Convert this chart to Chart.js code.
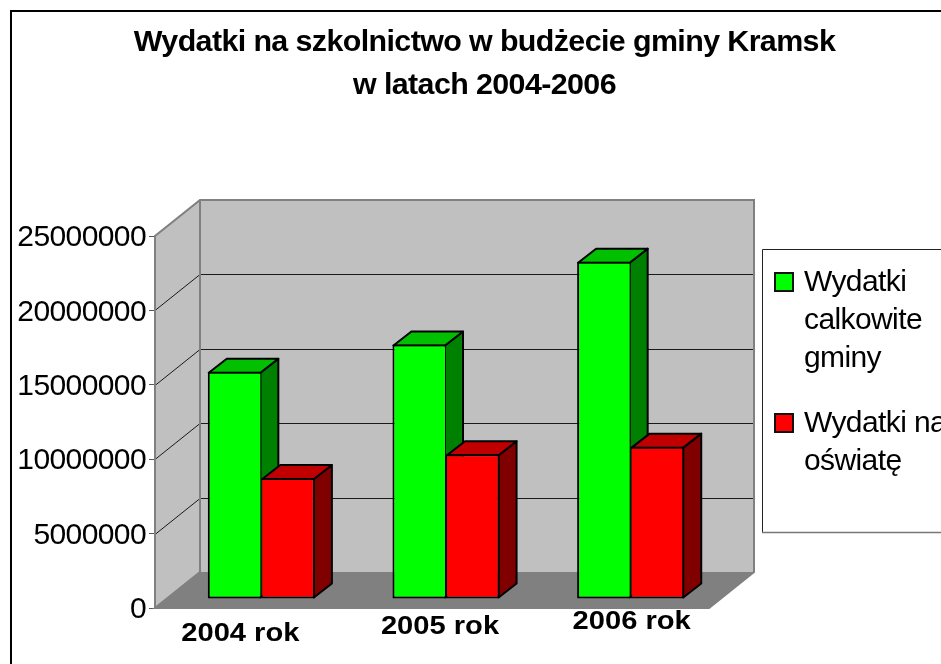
<!DOCTYPE html>
<html><head><meta charset="utf-8">
<style>html,body{margin:0;padding:0;background:#fff;overflow:hidden}canvas{display:block}</style>
<script src="https://cdn.jsdelivr.net/npm/chart.js@4/dist/chart.umd.min.js"></script>
</head><body><canvas id="c" width="941" height="664"></canvas>
<script>
const titleLines = ['Wydatki na szkolnictwo w budżecie gminy Kramsk', 'w latach 2004-2006'];
const categories = ['2004 rok', '2005 rok', '2006 rok'];
const totalName = 'Wydatki calkowite gminy';
const educationName = 'Wydatki na oświatę';
const totalValues = [15270000, 17100000, 22670000];
const educationValues = [8130000, 9730000, 10240000];
const totalLegendLines = ['Wydatki', 'calkowite', 'gminy'];
const educationLegendLines = ['Wydatki na', 'oświatę'];
const yTicks = [0, 5000000, 10000000, 15000000, 20000000, 25000000];

const WALL = {dx: 45, dy: -36};
const BAR_OFF = {dx: 14, dy: -9};
const BAR_DEPTH = {dx: 18, dy: -14};
const FONT = '"Liberation Sans", Arial, sans-serif';

function poly(ctx, pts, fill, stroke, lw) {
  ctx.beginPath();
  pts.forEach((p, i) => i ? ctx.lineTo(p[0], p[1]) : ctx.moveTo(p[0], p[1]));
  ctx.closePath();
  if (fill) { ctx.fillStyle = fill; ctx.fill(); }
  if (stroke) { ctx.strokeStyle = stroke; ctx.lineWidth = lw; ctx.lineJoin = 'round'; ctx.stroke(); }
}

const scene3d = {
  id: 'scene3d',
  afterLayout(chart) {
    if (chart.titleBlock) { chart.titleBlock.left = 28; chart.titleBlock.right = 941; }
  },
  beforeDraw(chart) {
    const c = chart.ctx;
    c.letterSpacing = '-0.6px';
    c.fillStyle = '#fff';
    c.fillRect(0, 0, 941, 664);
    c.strokeStyle = '#000';
    c.lineWidth = 2;
    c.strokeRect(11, 11, 1000, 1000);
  },
  beforeDatasetsDraw(chart) {
    const c = chart.ctx, a = chart.chartArea, y = chart.scales.y;
    const L = a.left, R = a.right, T = a.top, B = a.bottom, dx = WALL.dx, dy = WALL.dy;
    c.save();
    poly(c, [[L, T], [L + dx, T + dy], [L + dx, B + dy], [L, B]], '#c0c0c0');
    poly(c, [[L + dx, T + dy], [R + dx, T + dy], [R + dx, B + dy], [L + dx, B + dy]], '#c0c0c0');
    poly(c, [[L, B], [L + dx, B + dy], [R + dx, B + dy], [R, B]], '#808080');
    c.strokeStyle = '#1a1a1a';
    c.lineWidth = 1;
    yTicks.slice(1, -1).forEach(v => {
      const p = Math.round(y.getPixelForValue(v)) + 0.5;
      c.beginPath();
      c.moveTo(L, p); c.lineTo(L + dx, p + dy); c.lineTo(R + dx, p + dy);
      c.stroke();
    });
    c.strokeStyle = '#808080';
    c.lineWidth = 2;
    c.beginPath();
    c.moveTo(L, B); c.lineTo(L, T); c.lineTo(L + dx, T + dy); c.lineTo(R + dx, T + dy);
    c.lineTo(R + dx, B + dy); c.lineTo(R, B); c.lineTo(L, B); c.lineTo(L + dx, B + dy);
    c.lineTo(L + dx, T + dy);
    c.stroke();
    // side and top faces of the bars, left series first so the right one overlaps it
    chart.data.datasets.forEach((ds, i) => {
      chart.getDatasetMeta(i).data.forEach(el => {
        const p = el.getProps(['x', 'y', 'base', 'width'], true);
        const x0 = p.x - p.width / 2 + BAR_OFF.dx + 1, x1 = p.x + p.width / 2 + BAR_OFF.dx - 1;
        const yt = p.y + BAR_OFF.dy + 1, yb = p.base + BAR_OFF.dy - 1;
        const ddx = BAR_DEPTH.dx, ddy = BAR_DEPTH.dy;
        poly(c, [[x1, yt], [x1 + ddx, yt + ddy], [x1 + ddx, yb + ddy], [x1, yb]], ds.sideColor, '#000', 2);
        poly(c, [[x0, yt], [x0 + ddx, yt + ddy], [x1 + ddx, yt + ddy], [x1, yt]], ds.topColor, '#000', 2);
      });
    });
    c.restore();
  },
  beforeDatasetDraw(chart) {
    const c = chart.ctx;
    c.save();
    c.translate(BAR_OFF.dx, BAR_OFF.dy);
  },
  afterDatasetDraw(chart) { chart.ctx.restore(); },
  afterDraw(chart) {
    const c = chart.ctx, x = chart.scales.x;
    c.save();
    // category labels sit on a slightly tilted baseline and are stretched wide in the reference
    const nudges = [[-7, 26], [8, 19], [15, 14]];
    c.font = 'bold 26px ' + FONT;
    c.letterSpacing = '0px';
    c.fillStyle = '#000';
    c.textAlign = 'center';
    c.textBaseline = 'middle';
    categories.forEach((t, i) => {
      c.save();
      c.translate(x.getPixelForTick(i) + nudges[i][0], chart.chartArea.bottom + nudges[i][1]);
      c.scale(1.12, 1);
      c.fillText(t, 0, 0);
      c.restore();
    });
    // legend box
    c.fillStyle = '#fff';
    c.fillRect(762, 249, 200, 283);
    c.lineWidth = 1;
    c.strokeStyle = '#222';
    c.beginPath(); c.moveTo(941, 249.5); c.lineTo(762.5, 249.5); c.lineTo(762.5, 532); c.stroke();
    c.strokeStyle = '#777';
    c.lineWidth = 1.5;
    c.beginPath(); c.moveTo(762, 532.5); c.lineTo(941, 532.5); c.stroke();
    const rows = [
      {lines: totalLegendLines, ds: chart.data.datasets[0], sw: 273, base: 291},
      {lines: educationLegendLines, ds: chart.data.datasets[1], sw: 414, base: 432}
    ];
    c.font = '30px ' + FONT;
    c.letterSpacing = '-0.6px';
    c.textAlign = 'left';
    c.textBaseline = 'alphabetic';
    rows.forEach(r => {
      c.fillStyle = r.ds.backgroundColor;
      c.fillRect(775, r.sw, 18, 18);
      c.strokeStyle = '#111';
      c.lineWidth = 2;
      c.strokeRect(775, r.sw, 18, 18);
      c.fillStyle = '#000';
      r.lines.forEach((t, i) => c.fillText(t, 804, r.base + i * 38));
    });
    c.restore();
  }
};

new Chart(document.getElementById('c'), {
  type: 'bar',
  data: {
    labels: categories,
    datasets: [
      {label: totalName, data: totalValues, backgroundColor: '#00ff00', sideColor: '#008000', topColor: '#00c000',
       borderColor: '#000', borderWidth: {left: 2, top: 2, bottom: 2, right: 1}, borderSkipped: false,
       categoryPercentage: 0.58, barPercentage: 1},
      {label: educationName, data: educationValues, backgroundColor: '#ff0000', sideColor: '#800000', topColor: '#c00000',
       borderColor: '#000', borderWidth: {left: 1, top: 2, bottom: 2, right: 2}, borderSkipped: false,
       categoryPercentage: 0.58, barPercentage: 1}
    ]
  },
  options: {
    responsive: false,
    animation: false,
    events: [],
    layout: {padding: {left: 0, right: 232, top: 0, bottom: 56}},
    plugins: {
      legend: {display: false},
      tooltip: {enabled: false},
      title: {
        display: true, text: titleLines, color: '#000', align: 'center',
        font: {family: FONT, size: 30.4, weight: 'bold', lineHeight: 43 / 30.4},
        padding: {top: 21, bottom: 129}
      }
    },
    scales: {
      x: {
        afterFit(s) { s.height = 0; },
        grid: {display: false}, border: {display: false},
        ticks: {display: false}
      },
      y: {
        min: 0, max: 25000000,
        afterFit(s) { s.width = 155; },
        afterBuildTicks(s) { s.ticks = yTicks.map(v => ({value: v})); },
        grid: {drawOnChartArea: false, drawTicks: true, tickLength: 6, color: '#555', lineWidth: 1},
        border: {display: false},
        ticks: {color: '#000', font: {family: FONT, size: 30}, padding: 3, labelOffset: 2, callback: v => String(v), autoSkip: false}
      }
    }
  },
  plugins: [scene3d]
});
</script></body></html>
